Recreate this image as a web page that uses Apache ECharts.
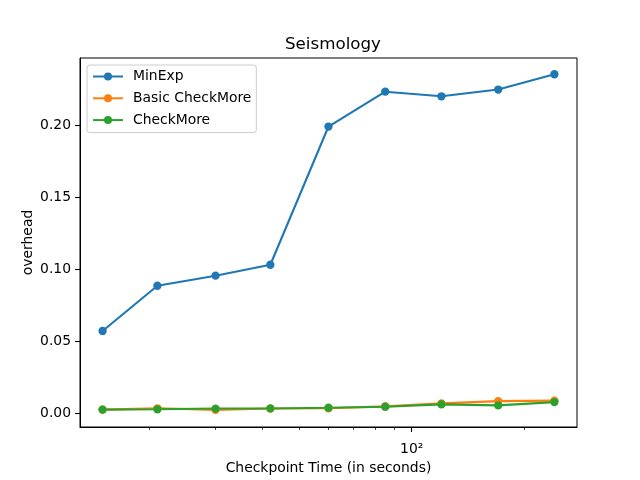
<!DOCTYPE html>
<html>
<head>
<meta charset="utf-8">
<script src="https://cdn.jsdelivr.net/npm/echarts@6/dist/echarts.min.js"></script>
<style>
  html, body { margin: 0; padding: 0; background: #fff; }
  #chart { width: 640px; height: 480px; }
</style>
</head>
<body>
<div id="chart"></div>
<script>
// checkpoint times (seconds), log-spaced
const checkpointTimes = [15, 21, 30, 42, 60, 85, 120, 170, 240]
const minExp = [0.057, 0.0884, 0.0954, 0.103, 0.199, 0.2232, 0.220, 0.2247, 0.2353]
const basicCheckMore = [0.0024, 0.0033, 0.0022, 0.0031, 0.0033, 0.0046, 0.0067, 0.0083, 0.0086]
const checkMore = [0.0024, 0.0026, 0.0031, 0.0032, 0.0037, 0.0044, 0.0060, 0.0053, 0.0076]
const yTicks = [0, 0.05, 0.10, 0.15, 0.20]
const xMajorTicks = [100]
const xMinorTicks = [20, 30, 40, 50, 60, 70, 80, 90, 200]

const FONT = 'DejaVu Sans'
const pairs = ys => checkpointTimes.map((t, i) => [t, ys[i]])

function mkSeries(name, ys, color) {
  return {
    name: name,
    type: 'line',
    data: pairs(ys),
    symbol: 'circle',
    symbolSize: 8.3,
    showSymbol: true,
    itemStyle: { color: color },
    lineStyle: { color: color, width: 2.1 },
    emphasis: { disabled: true },
    animation: false
  }
}

const chart = echarts.init(document.getElementById('chart'))
chart.setOption({
  backgroundColor: '#fff',
  animation: false,
  textStyle: { fontFamily: FONT, color: '#000' },
  title: {
    text: 'Seismology',
    left: 328,
    top: 31,
    textAlign: 'center',
    textStyle: { fontFamily: FONT, fontSize: 16.7, fontWeight: 'normal', color: '#000' }
  },
  legend: {
    left: 87,
    top: 65,
    orient: 'vertical',
    padding: [4.5, 5, 5.5, 5],
    itemWidth: 30,
    itemHeight: 10,
    itemGap: 7.8,
    backgroundColor: 'rgba(255,255,255,0.8)',
    borderColor: '#cccccc',
    borderWidth: 1,
    borderRadius: 3,
    textStyle: { fontFamily: FONT, fontSize: 13.9, color: '#000', padding: [0, 0, 0, 5] },
    data: ['MinExp', 'Basic CheckMore', 'CheckMore']
  },
  grid: {
    left: 80, right: 63, top: 58, bottom: 53,
    show: true, borderColor: '#000', borderWidth: 1, containLabel: false
  },
  xAxis: [{
    type: 'log',
    logBase: 10,
    min: 13.06,
    max: 275.7,
    position: 'bottom',
    name: 'Checkpoint Time (in seconds)',
    nameLocation: 'middle',
    nameGap: 34,
    nameMoveOverlap: false,
    nameTextStyle: { fontFamily: FONT, fontSize: 13.9, color: '#000' },
    axisLine: { show: true, onZero: false, lineStyle: { color: '#000', width: 1 } },
    axisTick: { show: true, inside: false, length: 5, customValues: xMajorTicks, lineStyle: { color: '#000', width: 1.1 } },
    axisLabel: {
      show: true, margin: 15, customValues: xMajorTicks,
      fontFamily: FONT, fontSize: 13.9, color: '#000',
      formatter: v => Math.round(v) === 100 ? '10²' : ''
    },
    splitLine: { show: false },
    minorTick: { show: false }
  }, {
    // minor ticks of the log axis
    type: 'log',
    logBase: 10,
    min: 13.06,
    max: 275.7,
    position: 'bottom',
    axisLine: { show: false, onZero: false },
    axisTick: { show: true, inside: false, length: 2.8, customValues: xMinorTicks, lineStyle: { color: '#000', width: 0.8 } },
    axisLabel: { show: false },
    splitLine: { show: false }
  }],
  yAxis: {
    type: 'value',
    min: -0.0097,
    max: 0.2466,
    name: 'overhead',
    nameLocation: 'middle',
    nameGap: 45,
    nameMoveOverlap: false,
    nameTextStyle: { fontFamily: FONT, fontSize: 13.9, color: '#000' },
    axisLine: { show: true, onZero: false, lineStyle: { color: '#000', width: 1 } },
    axisTick: { show: true, inside: false, length: 5, customValues: yTicks, lineStyle: { color: '#000', width: 1.1 } },
    axisLabel: {
      show: true, margin: 9, customValues: yTicks,
      fontFamily: FONT, fontSize: 13.9, color: '#000',
      formatter: v => v.toFixed(2)
    },
    splitLine: { show: false }
  },
  series: [
    mkSeries('MinExp', minExp, '#1f77b4'),
    mkSeries('Basic CheckMore', basicCheckMore, '#ff7f0e'),
    mkSeries('CheckMore', checkMore, '#2ca02c')
  ]
})
</script>
</body>
</html>
